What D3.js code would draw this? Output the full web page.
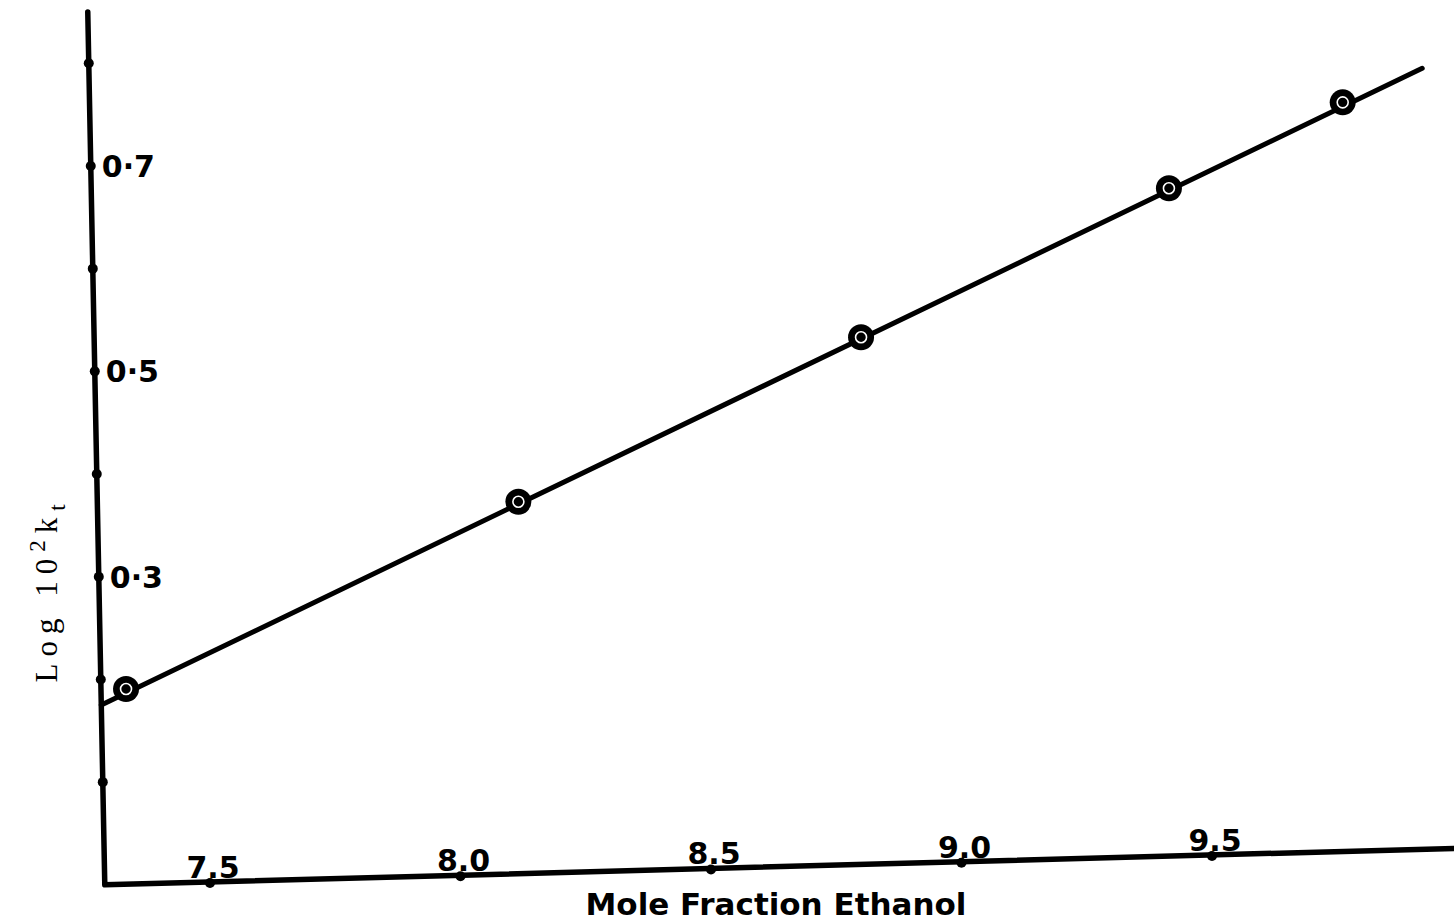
<!DOCTYPE html>
<html>
<head>
<meta charset="utf-8">
<script src="https://cdn.jsdelivr.net/npm/d3@7"></script>
<style>
  html, body { margin: 0; padding: 0; background: #fff; }
  #box { width: 1454px; height: 922px; }
</style>
</head>
<body>
<div id="box"></div>
<script>
// data
const moleFrac = [7.34, 8.13, 8.82, 9.44, 9.79];
const logK = [0.190, 0.362, 0.513, 0.650, 0.729];
// fitted straight line, drawn from the y axis out past the last point
const fitX = [7.29, 9.95];
const fitY = [0.175, 0.760];
const xTicks = [7.5, 8.0, 8.5, 9.0, 9.5];
const xTickLabels = ['7.5', '8.0', '8.5', '9.0', '9.5'];
const yTicks = [0.1, 0.2, 0.3, 0.4, 0.5, 0.6, 0.7, 0.8];
const yLabelTicks = [0.3, 0.5, 0.7];
const yTickLabels = ['0·3', '0·5', '0·7'];

const container = d3.select('#box');
const width = 1454;
const height = 922;

const xMin = 7.29;   // where the y axis sits
const yTop = 0.85;
const xRight = 9.983;

// scales along each (hand drawn, slightly skewed) axis
const sx = d3.scaleLinear().domain([7.5, 9.5]).range([0, 1002]);
const sy = d3.scaleLinear().domain([0, 0.8]).range([0, 821.6]);

// paper origin of x=7.5, y=0 and the small skew of the drawing
const ox = 210, oy = 882;
const skewX = -0.027;  // x axis rises to the right
const skewY = -0.0195; // y axis leans left going up

function P(x, y) {
  const u = sx(x), v = sy(y);
  return [ox + u + skewY * v, oy + skewX * u - v];
}

const svg = container.append('svg')
  .attr('width', width)
  .attr('height', height)
  .attr('viewBox', `0 0 ${width} ${height}`);

const line = d3.line().x(d => P(d[0], d[1])[0]).y(d => P(d[0], d[1])[1]);

// axes
svg.append('path')
  .attr('d', line([[xMin, yTop], [xMin, 0], [xRight, 0]]))
  .attr('fill', 'none')
  .attr('stroke', '#000')
  .attr('stroke-width', 5.5)
  .attr('stroke-linejoin', 'round')
  .attr('stroke-linecap', 'round');

// tick dots
svg.selectAll('.ytick').data(yTicks)
  .join('circle')
  .attr('class', 'ytick')
  .attr('cx', d => P(xMin, d)[0])
  .attr('cy', d => P(xMin, d)[1])
  .attr('r', 5)
  .attr('fill', '#000');

svg.selectAll('.xtick').data(xTicks)
  .join('circle')
  .attr('class', 'xtick')
  .attr('cx', d => P(d, 0)[0])
  .attr('cy', d => P(d, 0)[1] + 1)
  .attr('r', 5)
  .attr('fill', '#000');

// tick labels
svg.selectAll('.ylab').data(yLabelTicks)
  .join('text')
  .attr('class', 'ylab')
  .attr('x', d => P(xMin, d)[0] + 11)
  .attr('y', d => P(xMin, d)[1] + 11)
  .style('font-family', 'DejaVu Sans')
  .style('font-weight', 'bold')
  .style('font-size', '30px')
  .text((d, i) => yTickLabels[i]);

svg.selectAll('.xlab').data(xTicks)
  .join('text')
  .attr('class', 'xlab')
  .attr('x', d => P(d, 0)[0] + 3)
  .attr('y', d => P(d, 0)[1] - 4)
  .attr('text-anchor', 'middle')
  .style('font-family', 'DejaVu Sans')
  .style('font-weight', 'bold')
  .style('font-size', '30px')
  .text((d, i) => xTickLabels[i]);

// fitted line
svg.append('path')
  .attr('d', line(fitX.map((x, i) => [x, fitY[i]])))
  .attr('fill', 'none')
  .attr('stroke', '#000')
  .attr('stroke-width', 5)
  .attr('stroke-linecap', 'round');

// points: black disc with a thin white ring
const pts = moleFrac.map((x, i) => [x, logK[i]]);
svg.selectAll('.pt').data(pts)
  .join('circle')
  .attr('class', 'pt')
  .attr('cx', d => P(d[0], d[1])[0])
  .attr('cy', d => P(d[0], d[1])[1])
  .attr('r', 13)
  .attr('fill', '#000');

svg.selectAll('.ring').data(pts)
  .join('circle')
  .attr('class', 'ring')
  .attr('cx', d => P(d[0], d[1])[0])
  .attr('cy', d => P(d[0], d[1])[1])
  .attr('r', 5.5)
  .attr('fill', 'none')
  .attr('stroke', '#fff')
  .attr('stroke-width', 1.6);

// axis titles
svg.append('text')
  .attr('x', 776)
  .attr('y', 915)
  .attr('text-anchor', 'middle')
  .style('font-family', 'DejaVu Sans')
  .style('font-weight', 'bold')
  .style('font-size', '31px')
  .text('Mole Fraction Ethanol');

const yt = svg.append('text')
  .attr('transform', 'translate(57, 590) rotate(-90)')
  .attr('text-anchor', 'middle')
  .style('font-family', 'Liberation Serif')
  .style('font-size', '31px')
  .style('letter-spacing', '7px');
yt.append('tspan').text('Log 10');
yt.append('tspan').attr('dy', -12).style('font-size', '23px').text('2');
yt.append('tspan').attr('dy', 12).text('k');
yt.append('tspan').attr('dy', 8).style('font-size', '23px').text('t');
</script>
</body>
</html>
